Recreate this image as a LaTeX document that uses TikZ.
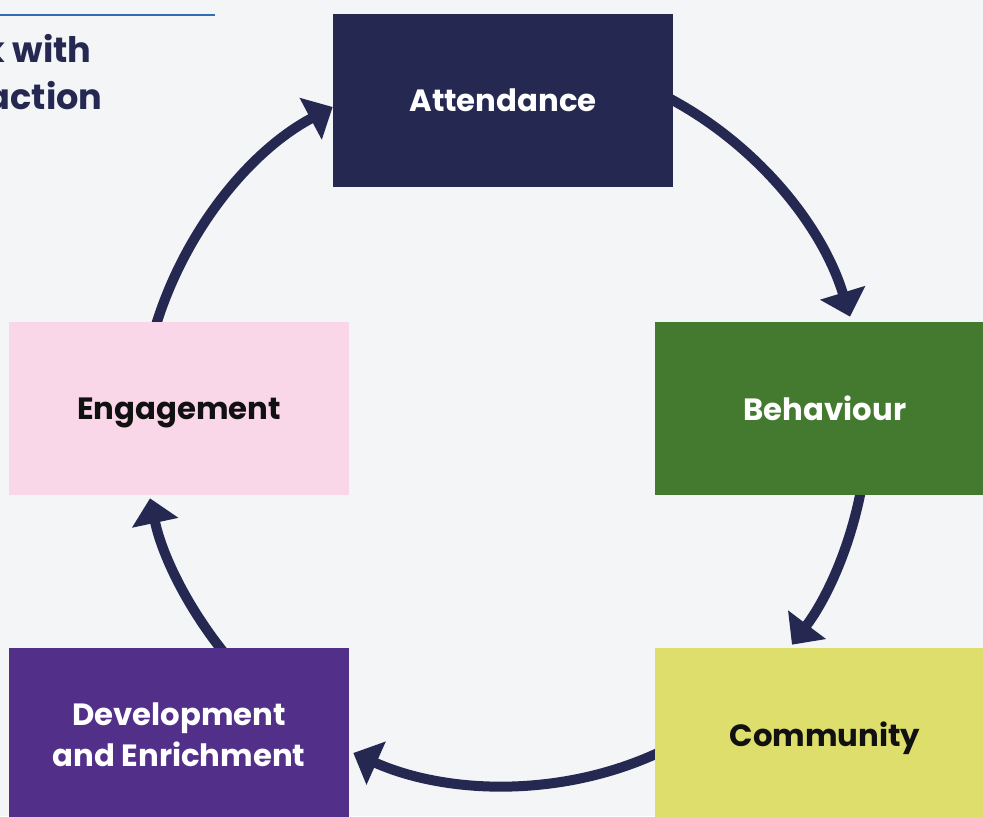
\documentclass[tikz,border=0pt]{standalone}
\usepackage{fontspec}
\setmainfont{Poppins}
\usetikzlibrary{arrows.meta,positioning,calc}
\definecolor{cyBack}{HTML}{F3F5F7}
\definecolor{cyNavy}{HTML}{252952}
\definecolor{cyGreen}{HTML}{437A2F}
\definecolor{cyLime}{HTML}{DDDE6B}
\definecolor{cyPurple}{HTML}{52308A}
\definecolor{cyPink}{HTML}{F9D7E8}
\definecolor{cyInk}{HTML}{111111}
\definecolor{cyBlue}{HTML}{2F6DB5}
\pgfdeclarelayer{bg}
\pgfsetlayers{bg,main}
\tikzset{
  stage/.style={
    minimum width=6.8cm, minimum height=3.46cm, inner sep=0pt,
    font=\bfseries\fontsize{17.5}{23.3}\selectfont, align=center, text=white
  },
  single/.style={stage, text depth=0pt},
  heading/.style={font=\bfseries\fontsize{20}{26}\selectfont, text=cyNavy, inner sep=0pt},
  cyclearrow/.style={-{Triangle[length=5mm, width=9.2mm]}, line width=2mm, cyNavy,
    looseness=0.87, shorten <=-1mm}
}

\begin{document}
\begin{tikzpicture}[x=0.02cm, y=0.02cm]
  \begin{pgfonlayer}{bg}
    \fill[cyBack] (0,0) rectangle (983,816);
  \end{pgfonlayer}
  \useasboundingbox (0,0) rectangle (983,816);
  \clip (0,0) rectangle (983,816);

  % heading cut by the left edge
  \draw[cyBlue, line width=0.4mm] (0,801) -- (215,801);
  \node[heading, anchor=base east] (ttl1) at (92,753) {k with};
  \node[heading, anchor=base east] (ttl2) at (103,706) {action};

  % the five stages
  \node[single, fill=cyNavy] (att) at (503,715.5) {Attendance};
  \node[single, fill=cyGreen] (beh) at (825,407.5) {Behaviour};
  \node[single, fill=cyLime, text=cyInk] (com) at (825,81.5) {Community};
  \node[stage, fill=cyPurple] (dev) at (179,81.5) {Development\\and Enrichment};
  \node[single, fill=cyPink, text=cyInk] (eng) at (179,407.5) {Engagement};

  % clockwise ring of arrows, kept behind the boxes
  \begin{pgfonlayer}{bg}
    \draw[cyclearrow] (att.east) to[out=-28, in=107] ($(beh.north)+(25,5)$);
    \draw[cyclearrow] ($(beh.south)+(35,0)$) to[out=-101, in=53] ($(com.north)+(-33,3)$);
    \draw[cyclearrow] ($(com.west)+(0,-20)$) to[out=205, in=-24] ($(dev.east)+(4,-18.5)$);
    \draw[cyclearrow] ($(dev.north)+(41,0)$) to[out=128.5, in=-78] ($(eng.south)+(-29,-3)$);
    \draw[cyclearrow] ($(eng.north)+(-22,0)$) to[out=73, in=208] ($(att.west)+(0,-6.5)$);
  \end{pgfonlayer}
\end{tikzpicture}
\end{document}
